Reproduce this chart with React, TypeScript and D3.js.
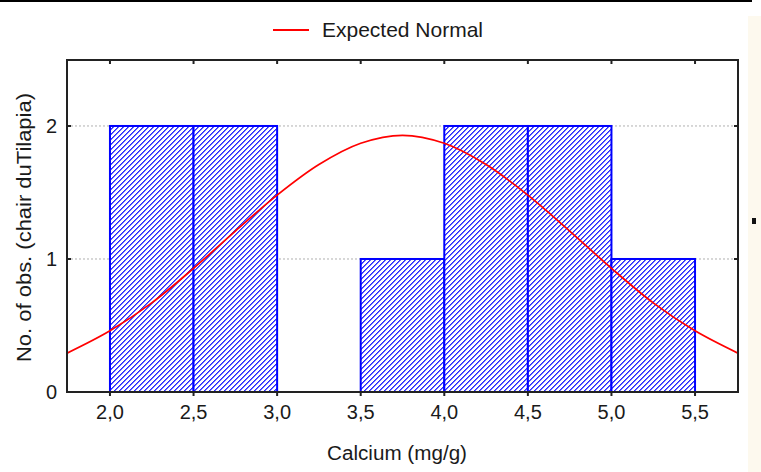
import React from "react";
import * as d3 from "d3";

const binStarts = [2.0, 2.5, 3.0, 3.5, 4.0, 4.5, 5.0];
const binCounts = [2, 2, 0, 1, 2, 2, 1];
const binWidth = 0.5;

const curveX = [1.74, 2.0, 2.25, 2.5, 2.75, 3.0, 3.25, 3.5, 3.75, 4.0, 4.25, 4.5, 4.75, 5.0, 5.25, 5.5, 5.76];
const curveY = [0.29, 0.46, 0.67, 0.93, 1.21, 1.48, 1.71, 1.87, 1.93, 1.87, 1.71, 1.48, 1.21, 0.93, 0.67, 0.46, 0.29];

const xTicks = [2.0, 2.5, 3.0, 3.5, 4.0, 4.5, 5.0, 5.5];
const yTicks = [0, 1, 2];

const xTitle = "Calcium (mg/g)";
const yTitle = "No. of obs. (chair duTilapia)";
const legendLabel = "Expected Normal";

const W = 761;
const H = 472;
const L = 67, R = 738, T = 60, B = 392;

const hatchCells = [0, 1, 2, 3, 4];

export default function App() {
  const x = d3.scaleLinear().domain([1.743, 5.757]).range([L, R]);
  const y = d3.scaleLinear().domain([0, 2.496]).range([B, T]);
  const fmt = (v: number) => v.toFixed(1).replace(".", ",");
  const line = d3
    .line<number>()
    .x((_, i) => x(curveX[i]))
    .y((d) => y(d))
    .curve(d3.curveCatmullRom);
  const font = "'Liberation Sans', Arial, sans-serif";
  return (
    <svg width={W} height={H} style={{ position: "absolute", left: 0, top: 0, background: "#fff" }} fontFamily={font}>
      <defs>
        <pattern id="hatch" patternUnits="userSpaceOnUse" x={0} y={0} width={5} height={5}>
          <rect width={5} height={5} fill="#fff" />
          {hatchCells.map((c) => (
            <rect key={"a" + c} x={c} y={4 - c} width={1} height={1} fill="#2a2aff" />
          ))}
          {hatchCells.map((c) => (
            <rect key={"b" + c} x={(c + 1) % 5} y={4 - c} width={1} height={1} fill="#6a6aff" />
          ))}
        </pattern>
        <clipPath id="plotClip">
          <rect x={L} y={T} width={R - L} height={B - T} />
        </clipPath>
      </defs>
      <rect x={748} y={16} width={13} height={H - 16} fill="#fdf9ee" />
      <rect x={752} y={218} width={4} height={6} fill="#111" />
      <rect x={0} y={0} width={752} height={2} fill="#000" />

      {/* gridlines */}
      {yTicks.filter((v) => v > 0).map((v) => (
        <line key={v} x1={L} x2={R} y1={y(v)} y2={y(v)} stroke="#b0b0b0" strokeWidth={1} strokeDasharray="2,2" />
      ))}

      {/* bars */}
      {binStarts.map((s, i) =>
        binCounts[i] > 0 ? (
          <rect
            key={s}
            x={x(s)}
            y={y(binCounts[i])}
            width={x(s + binWidth) - x(s)}
            height={y(0) - y(binCounts[i])}
            fill="url(#hatch)"
            stroke="#0000ff"
            strokeWidth={2}
          />
        ) : null
      )}

      {/* normal curve */}
      <path d={line(curveY) || ""} fill="none" stroke="#ff0000" strokeWidth={1.7} clipPath="url(#plotClip)" />

      {/* frame */}
      <rect x={L} y={T} width={R - L} height={B - T} fill="none" stroke="#222" strokeWidth={2} />

      {/* ticks */}
      {xTicks.map((v) => (
        <g key={v}>
          <line x1={x(v)} x2={x(v)} y1={T} y2={T + 4} stroke="#222" strokeWidth={2} />
          <line x1={x(v)} x2={x(v)} y1={B} y2={B + 4} stroke="#222" strokeWidth={2} />
          <text x={x(v)} y={419} fontSize={20} textAnchor="middle" fill="#1a1a1a">
            {fmt(v)}
          </text>
        </g>
      ))}
      {yTicks.map((v) => (
        <g key={v}>
          <line x1={L} x2={L + 4} y1={y(v)} y2={y(v)} stroke="#222" strokeWidth={2} />
          <line x1={R - 4} x2={R} y1={y(v)} y2={y(v)} stroke="#222" strokeWidth={2} />
          <text x={57} y={y(v) + 7} fontSize={20} textAnchor="end" fill="#1a1a1a">
            {v}
          </text>
        </g>
      ))}

      {/* titles */}
      <text x={(327 + 467) / 2} y={460} fontSize={20} textAnchor="middle" fill="#1a1a1a" textLength={140} lengthAdjust="spacingAndGlyphs">
        {xTitle}
      </text>
      <text
        transform={`translate(31,227.5) rotate(-90)`}
        fontSize={20}
        textAnchor="middle"
        fill="#1a1a1a"
        textLength={269}
        lengthAdjust="spacingAndGlyphs"
      >
        {yTitle}
      </text>

      {/* legend */}
      <line x1={273} x2={309} y1={30} y2={30} stroke="#ff0000" strokeWidth={2} />
      <text x={322} y={37} fontSize={21} fill="#1a1a1a" textLength={161} lengthAdjust="spacingAndGlyphs">
        {legendLabel}
      </text>
    </svg>
  );
}
